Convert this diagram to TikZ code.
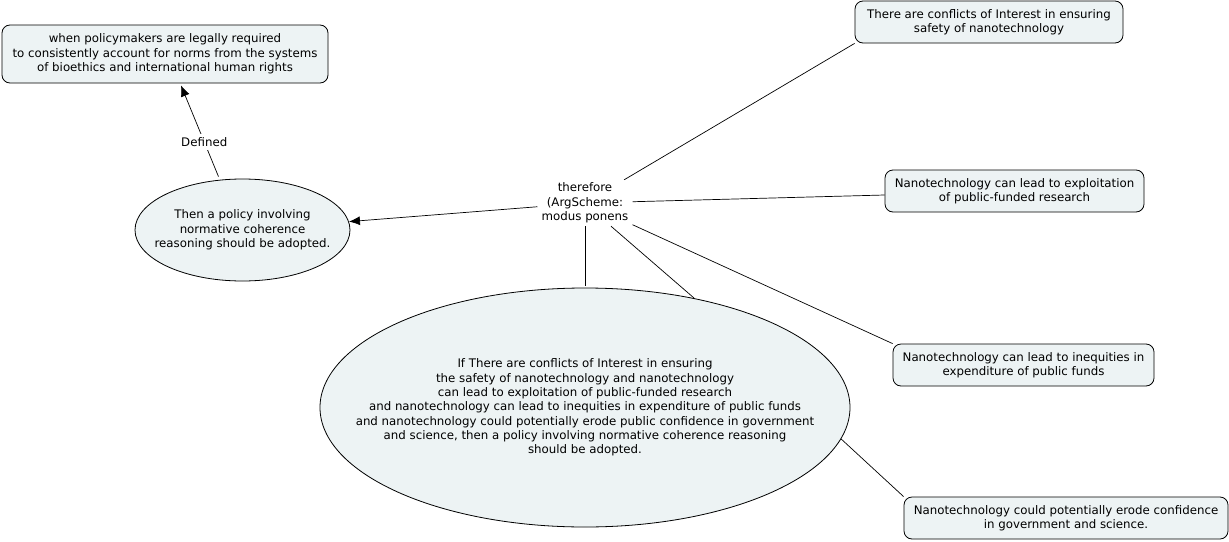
\documentclass[tikz,border=0pt]{standalone}
\usepackage{fontspec}
\setmainfont{DejaVu Sans}
\usetikzlibrary{shapes.geometric,arrows.meta,calc}
\definecolor{nodefill}{HTML}{EDF3F4}
\begin{document}
\begin{tikzpicture}[x=1pt,y=-1pt,
  txt/.style={font=\fontsize{11.8}{14.3}\selectfont, align=center},
  box/.style={txt, draw=black, line width=0.8pt, fill=nodefill, rounded corners=8pt, inner sep=0pt, minimum height=42pt},
  ellnode/.style={ellipse, draw=black, line width=0.8pt, fill=nodefill, inner sep=0pt},
  link/.style={draw=black, line width=0.7pt},
  arr/.style={link, -{Latex[length=11pt,width=9pt]}}]
\useasboundingbox[fill=white] (0,0) rectangle (1229,541);

% boxes
\node[box, minimum width=326pt, minimum height=58pt] (A) at (165,54)
  {when policymakers are legally required\\to consistently account for norms from the systems\\of bioethics and international human rights};
\node[box, minimum width=268pt] (B) at (989,22)
  {There are conflicts of Interest in ensuring\\safety of nanotechnology};
\node[box, minimum width=259pt] (C) at (1014.5,191)
  {Nanotechnology can lead to exploitation\\of public-funded research};
\node[box, minimum width=261pt] (D) at (1023.5,365)
  {Nanotechnology can lead to inequities in\\expenditure of public funds};
\node[box, minimum width=324pt] (E) at (1066,518)
  {Nanotechnology could potentially erode confidence\\in government and science.};

% ellipses
\node[ellnode, minimum width=215pt, minimum height=102pt] (T) at (242.5,230) {};
\node[txt] (Ttext) at (T.center)
  {Then a policy involving\\normative coherence\\reasoning should be adopted.};
\node[ellnode, minimum width=530pt, minimum height=239pt] (big) at (585,407.5) {};
\node[txt] (bigtext) at (big.center)
  {If There are conflicts of Interest in ensuring\\the safety of nanotechnology and nanotechnology\\can lead to exploitation of public-funded research\\and nanotechnology can lead to inequities in expenditure of public funds\\and nanotechnology could potentially erode public confidence in government\\and science, then a policy involving normative coherence reasoning\\should be adopted.};

% linking phrase
\node[txt, inner xsep=4pt, inner ysep=3pt] (th) at (585,203)
  {therefore\\(ArgScheme:\\modus ponens};

% connectors
\draw[arr] ($(T.north)+(-24,-2)$) -- node[txt, pos=0.38, fill=white, inner sep=3pt] (def) {Defined} ($(A.south)+(16,2)$);
\draw[arr] (th) -- (T);
\draw[link] (th) -- (B.south west);
\draw[link] (th) -- ($(C.west)+(0,4)$);
\draw[link] (th) -- (D.north west);
\draw[link] (th.south) -- ($(big.north)+(0,-2)$);
\draw[link] ($(th.south)+(26,0)$) -- (big.45);
\draw[link] (big.-7) -- (E.north west);
\end{tikzpicture}
\end{document}
